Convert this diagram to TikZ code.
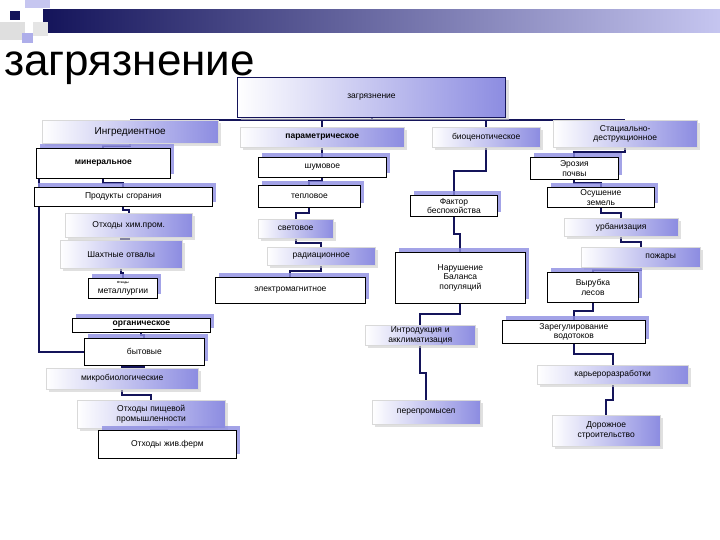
\documentclass[tikz,border=0pt]{standalone}
\usepackage{fontspec}
\setmainfont{Liberation Sans}
\usetikzlibrary{shadows,calc,backgrounds}
\definecolor{navy}{RGB}{20,20,90}
\definecolor{lav}{RGB}{140,140,225}
\tikzset{
 base/.style={anchor=north west, inner sep=1pt, align=center, font=\fontsize{8.5}{9.5}\selectfont},
 wbox/.style={base, draw=black, fill=white, line width=0.8pt, drop shadow={fill=lav, opacity=.8, shadow xshift=4pt, shadow yshift=4pt}},
 gbox/.style={base, left color=white, right color=lav, draw=gray!30, drop shadow={fill=gray!40, opacity=.6, shadow xshift=3pt, shadow yshift=-3pt}},
 conn/.style={draw=navy, line width=2pt}
}
\newcommand{\bx}[7]{\node[#6, minimum width={(#4-#2)*1pt}, minimum height={(#5-#3)*1pt}, text width={(#4-#2-4)*1pt}] (#1) at (#2,#3) {#7};}
\newcommand{\elb}[2]{\draw[conn] (#1.south) |- ($(#1.south)!.5!(#2.north)$) -| (#2.north);}
\begin{document}
\begin{tikzpicture}[x=1pt,y=-1pt]
\useasboundingbox (0,0) rectangle (720,540);
% header decoration
\shade[left color=navy, right color=lav!50] (43,10) rectangle (720,33);
\fill[lav!50] (25,0) rectangle (50,8);
\fill[gray!25] (0,22) rectangle (25,40);
\fill[lav!70] (22,33) rectangle (33,43);
\fill[gray!20] (33,22) rectangle (48,36);
\fill[navy] (10,11) rectangle (20,20);
\node[anchor=west, inner sep=0pt, font=\fontsize{44}{46}\selectfont] (title) at (4,68) {загрязнение};
% boxes
\bx{top}{237}{77}{505}{117}{gbox,draw=navy,line width=1pt}{загрязнение}
\bx{ingr}{42}{120}{218}{143}{gbox}{\fontsize{10}{11}\selectfont Ингредиентное}
\bx{param}{240}{127}{404}{147}{gbox}{\textbf{параметрическое}}
\bx{bio}{432}{127}{540}{147}{gbox}{биоценотическое}
\bx{stac}{553}{120}{697}{147}{gbox}{Стациально-\\деструкционное}
\bx{miner}{36}{148}{170}{178}{wbox}{\textbf{минеральное}}
\bx{prod}{34}{187}{212}{206}{wbox}{Продукты сгорания}
\bx{him}{65}{213}{192}{237}{gbox}{Отходы хим.пром.}
\bx{shakh}{60}{240}{182}{268}{gbox}{Шахтные отвалы}
\bx{metal}{88}{278}{157}{298}{wbox}{{\fontsize{3}{3}\selectfont\textbf{Отходы}}\\металлургии}
\bx{shum}{258}{157}{386}{177}{wbox}{шумовое}
\bx{tepl}{258}{185}{360}{207}{wbox}{тепловое}
\bx{svet}{258}{219}{333}{238}{gbox}{световое}
\bx{rad}{267}{247}{375}{265}{gbox}{радиационное}
\bx{elek}{215}{277}{365}{303}{wbox}{электромагнитное}
\bx{fakt}{410}{195}{497}{216}{wbox}{Фактор\\беспокойства}
\bx{narush}{395}{252}{525}{303}{wbox}{Нарушение\\Баланса\\популяций}
\bx{eroz}{530}{157}{618}{179}{wbox}{Эрозия\\почвы}
\bx{osush}{547}{187}{654}{207}{wbox}{Осушение\\земель}
\bx{urb}{564}{218}{678}{236}{gbox}{урбанизация}
\bx{pozh}{581}{247}{700}{267}{gbox}{\hspace*{40pt}пожары}
\bx{vyr}{547}{272}{638}{302}{wbox}{Вырубка\\лесов}
\bx{intro}{365}{325}{475}{345}{gbox}{Интродукция и\\акклиматизация}
\bx{zareg}{502}{320}{645}{343}{wbox}{Зарегулирование\\водотоков}
\bx{organ}{72}{318}{210}{332}{wbox}{\underline{\textbf{органическое}}}
\bx{byt}{84}{338}{204}{365}{wbox}{бытовые}
\bx{mikro}{46}{368}{198}{389}{gbox}{микробиологические}
\bx{kar}{537}{365}{688}{384}{gbox}{карьероразработки}
\bx{pish}{77}{400}{225}{428}{gbox}{Отходы пищевой\\промышленности}
\bx{zhiv}{98}{430}{236}{458}{wbox}{Отходы жив.ферм}
\bx{perep}{372}{400}{480}{424}{gbox}{перепромысел}
\bx{dor}{552}{415}{660}{446}{gbox}{Дорожное\\строительство}
% connectors
\begin{scope}[on background layer]
\draw[conn] (top.south) -- (top.south |- ingr.north);
\draw[conn] (ingr.north) -- (stac.north);
\draw[conn] (param.north) -- (param.north |- ingr.north);
\draw[conn] (bio.north) -- (bio.north |- ingr.north);
\elb{ingr}{miner}
\draw[conn] ([xshift=3pt]miner.south west) |- (byt.west);
\elb{miner}{prod}\elb{prod}{him}\elb{him}{shakh}\elb{shakh}{metal}
\elb{param}{shum}\elb{shum}{tepl}\elb{tepl}{svet}\elb{svet}{rad}\elb{rad}{elek}
\elb{bio}{fakt}\elb{fakt}{narush}\elb{narush}{intro}\elb{intro}{perep}
\elb{stac}{eroz}\elb{eroz}{osush}\elb{osush}{urb}\elb{urb}{pozh}\elb{pozh}{vyr}\elb{vyr}{zareg}\elb{zareg}{kar}\elb{kar}{dor}
\elb{organ}{byt}\elb{byt}{mikro}\elb{mikro}{pish}\elb{pish}{zhiv}
\end{scope}
\end{tikzpicture}
\end{document}
